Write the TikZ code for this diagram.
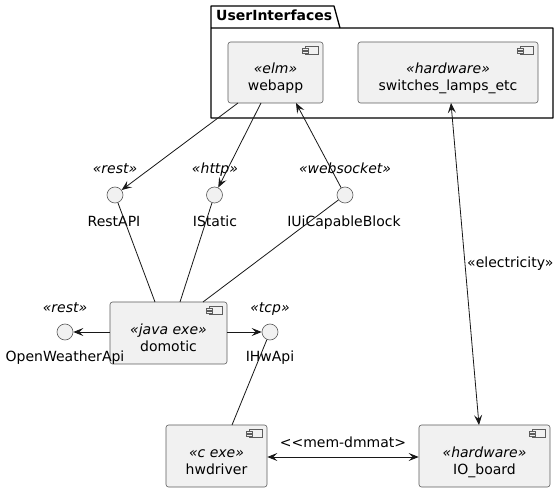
\documentclass[tikz,border=0pt]{standalone}
\usepackage{fontspec}
\setmainfont{DejaVu Sans}
\usetikzlibrary{arrows.meta}
\definecolor{boxfill}{HTML}{F1F1F1}
\definecolor{lineclr}{HTML}{181818}
\tikzset{
  comp/.style={draw=lineclr!70, line width=0.6pt, fill=boxfill, rounded corners=2.5pt, inner sep=0pt},
  iface/.style={circle, draw=lineclr!70, line width=0.6pt, fill=boxfill, minimum size=16pt, inner sep=0pt},
  txt/.style={font=\fontsize{14}{16}\selectfont, text=black, inner sep=0pt, anchor=base},
  stereo/.style={font=\fontsize{14}{16}\selectfont\itshape, text=black, inner sep=0pt, anchor=base},
  conn/.style={draw=lineclr, line width=0.8pt},
  tip/.tip={Stealth[length=10pt,width=8pt,inset=4pt]},
}
\newcommand{\compicon}[1]{%
  \draw[draw=lineclr!70, line width=0.5pt, fill=boxfill] ([xshift=-18pt,yshift=-5pt]#1.north east) rectangle ([xshift=-5pt,yshift=-13pt]#1.north east);
  \draw[draw=lineclr!70, line width=0.5pt, fill=boxfill] ([xshift=-21pt,yshift=-7pt]#1.north east) rectangle ([xshift=-15pt,yshift=-9pt]#1.north east);
  \draw[draw=lineclr!70, line width=0.5pt, fill=boxfill] ([xshift=-21pt,yshift=-10pt]#1.north east) rectangle ([xshift=-15pt,yshift=-12pt]#1.north east);
}
\begin{document}
\begin{tikzpicture}[x=1pt,y=-1pt]
\useasboundingbox (0,0) rectangle (558,492);
\fill[white] (0,0) rectangle (558,492);
% package
\draw[line width=1.3pt, draw=black, line join=round] (211,28) -- (211,6) -- (334,6) -- (340,28) -- (211,28) -- (211,118) -- (553,118) -- (553,28) -- (340,28);
\node[txt, anchor=base west, font=\fontsize{14}{16}\selectfont\bfseries] (pkg) at (216,21) {UserInterfaces};

% components
\node[comp, minimum width=95pt, minimum height=61pt] (webapp) at (275.5,72.5) {};
\compicon{webapp}
\node[stereo] (webappS) at (275.5,74) {«elm»};
\node[txt] (webappN) at (275.5,91) {webapp};

\node[comp, minimum width=180pt, minimum height=61pt] (sw) at (448,72.5) {};
\compicon{sw}
\node[stereo] (swS) at (448,74) {«hardware»};
\node[txt] (swN) at (448,91) {switches\_lamps\_etc};

\node[comp, minimum width=117pt, minimum height=62pt] (dom) at (168.5,333) {};
\compicon{dom}
\node[stereo] (domS) at (168.5,335) {«java exe»};
\node[txt] (domN) at (168.5,352) {domotic};

\node[comp, minimum width=101pt, minimum height=62pt] (hw) at (216.5,456) {};
\compicon{hw}
\node[stereo] (hwS) at (216.5,457.5) {«c exe»};
\node[txt] (hwN) at (216.5,474.5) {hwdriver};

\node[comp, minimum width=131pt, minimum height=62pt] (io) at (484.5,456) {};
\compicon{io}
\node[stereo] (ioS) at (484.5,457.5) {«hardware»};
\node[txt] (ioN) at (484.5,474.5) {IO\_board};

% interfaces
\node[iface] (rest) at (115,195) {};
\node[stereo] (restS) at (115,174) {«rest»};
\node[txt] (restN) at (114,227) {RestAPI};

\node[iface] (istat) at (214.5,195) {};
\node[stereo] (istatS) at (215,174) {«http»};
\node[txt] (istatN) at (215,227) {IStatic};

\node[iface] (iui) at (345,195) {};
\node[stereo] (iuiS) at (345,174) {«websocket»};
\node[txt] (iuiN) at (344,227) {IUiCapableBlock};

\node[iface] (owa) at (65,332) {};
\node[stereo] (owaS) at (65,313) {«rest»};
\node[txt] (owaN) at (65,362) {OpenWeatherApi};

\node[iface] (ihw) at (270,332) {};
\node[stereo] (ihwS) at (270,313) {«tcp»};
\node[txt] (ihwN) at (270,362) {IHwApi};

% connectors
\coordinate (w1) at (238,103);
\coordinate (w2) at (261,103);
\coordinate (w3) at (296,103);
\draw[conn, -tip] (w1) -- (rest);
\draw[conn, -tip] (w2) -- (istat);
\draw[conn, -tip] (iui) -- (w3);

\coordinate (d1) at (155,302);
\coordinate (d2) at (180,302);
\coordinate (d3) at (203,302);
\draw[conn] (rest) -- (d1);
\draw[conn] (istat) -- (d2);
\draw[conn] (iui) -- (d3);

\draw[conn, -tip] (dom.west |- owa) -- (owa);
\draw[conn, -tip] (dom.east |- ihw) -- (ihw);

\coordinate (h1) at (232,425);
\draw[conn] (ihw) -- (h1);

\coordinate (s1) at (451,103);
\coordinate (s2) at (479,425);
\draw[conn, tip-tip] (s1) -- (s2);
\node[txt, anchor=base west] (elec) at (467,268) {«electricity»};

\draw[conn, tip-tip] (hw.east |- 0,457) -- (io.west |- 0,457);
\node[txt] (mem) at (343,448) {<{}<mem-dmmat>};
\end{tikzpicture}
\end{document}
